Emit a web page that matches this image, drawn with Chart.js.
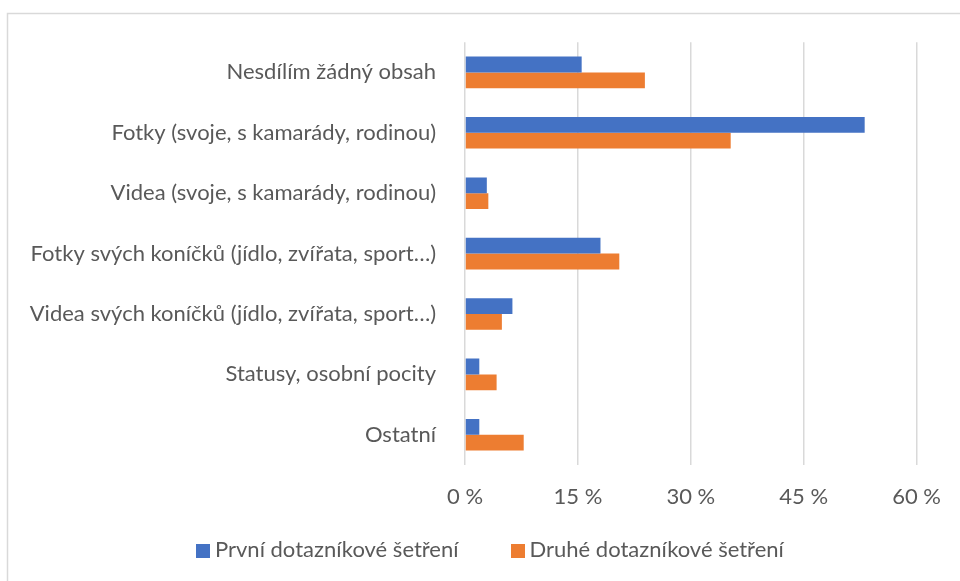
<!DOCTYPE html>
<html>
<head>
<meta charset="utf-8">
<script src="https://cdn.jsdelivr.net/npm/chart.js@4/dist/chart.umd.min.js"></script>
<style>
  html, body { margin: 0; padding: 0; background: #fff; }
  #wrap { position: relative; width: 960px; height: 581px; }
  #legend { position: absolute; left: 196px; top: 536px; line-height: 26px;
            font-family: Lato, sans-serif; font-size: 22px; color: #595959; white-space: nowrap; }
  #legend span.item { display: inline-block; margin-right: 52px; }
  #legend span.box { display: inline-block; width: 14px; height: 14px; margin-right: 5px; vertical-align: -1px; }
</style>
</head>
<body>
<div id="wrap">
  <canvas id="chart" width="960" height="581"></canvas>
  <div id="legend"></div>
</div>
<script>
const categories = [
    'Nesdílím žádný obsah',
    'Fotky (svoje, s kamarády, rodinou)',
    'Videa (svoje, s kamarády, rodinou)',
    'Fotky svých koníčků (jídlo, zvířata, sport…)',
    'Videa svých koníčků (jídlo, zvířata, sport…)',
    'Statusy, osobní pocity',
    'Ostatní'
];
const firstSurvey = [15.5, 53.1, 2.9, 18.0, 6.3, 1.9, 1.9];
const secondSurvey = [23.9, 35.3, 3.1, 20.5, 4.9, 4.2, 7.8];
const seriesNames = ['První dotazníkové šetření', 'Druhé dotazníkové šetření'];
const xTicks = [0, 15, 30, 45, 60];

const textColor = '#595959';
const font = { family: 'Lato, sans-serif', size: 22 };

// light frame of the chart object, as in the spreadsheet export
const framePlugin = {
    id: 'frame',
    beforeDraw(chart) {
        const c = chart.ctx;
        c.save();
        c.strokeStyle = '#d9d9d9';
        c.lineWidth = 1.5;
        c.beginPath();
        c.moveTo(7.5, chart.height);
        c.lineTo(7.5, 13.5);
        c.lineTo(chart.width, 13.5);
        c.stroke();
        c.restore();
    }
};

const ctx = document.getElementById('chart').getContext('2d');
const chart = new Chart(ctx, {
    type: 'bar',
    data: {
        labels: categories,
        datasets: [{
            label: seriesNames[0],
            data: firstSurvey,
            backgroundColor: '#4472C4'
        }, {
            label: seriesNames[1],
            data: secondSurvey,
            backgroundColor: '#ED7D31'
        }]
    },
    options: {
        indexAxis: 'y',
        responsive: false,
        animation: false,
        layout: { padding: { top: 42, right: 40, bottom: 70, left: 0 } },
        datasets: { bar: { categoryPercentage: 0.523, barPercentage: 1 } },
        plugins: { legend: { display: false }, tooltip: { enabled: false } },
        scales: {
            x: {
                min: 0, max: 60,
                afterBuildTicks: (s) => { s.ticks = xTicks.map(v => ({ value: v })); },
                afterFit: (s) => { s.height = 46; },
                grid: { color: '#d9d9d9', lineWidth: 1.5, drawTicks: false },
                border: { display: false },
                ticks: { color: textColor, font: font, padding: 19, maxRotation: 0, callback: (v) => v + ' %' }
            },
            y: {
                grid: { display: false, drawTicks: false },
                border: { display: false },
                ticks: { color: textColor, font: font, padding: 29 },
                afterFit: (s) => { s.width = 465; }
            }
        }
    },
    plugins: [framePlugin]
});

document.getElementById('legend').innerHTML = chart.data.datasets.map(d =>
    '<span class="item"><span class="box" style="background:' + d.backgroundColor + '"></span>' + d.label + '</span>'
).join('');
</script>
</body>
</html>
